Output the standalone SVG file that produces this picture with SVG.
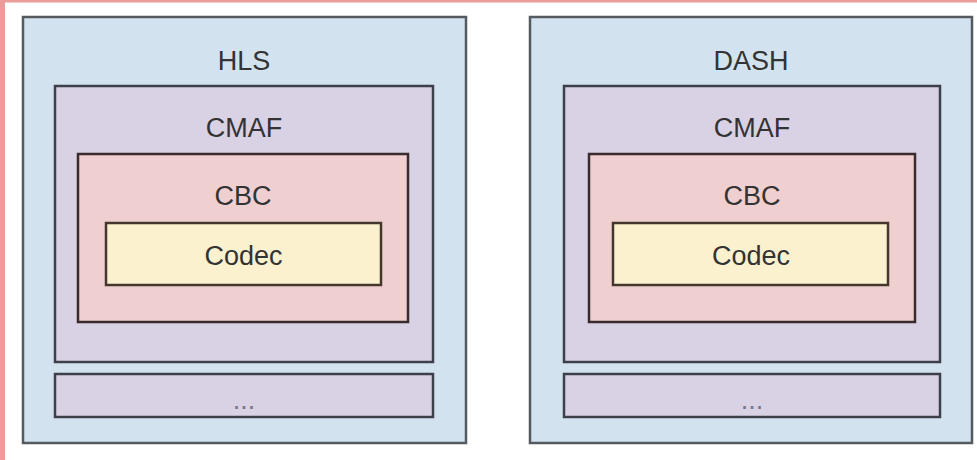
<svg xmlns="http://www.w3.org/2000/svg" width="977" height="460" viewBox="0 0 977 460">
<style>
.outer{fill:#d3e2ef;stroke:#555a5e;stroke-width:2.5}
.cmaf{fill:#d9d2e5;stroke:#3d4048;stroke-width:2.5}
.cbc{fill:#efcfcf;stroke:#3a2b2d;stroke-width:2.5}
.codec{fill:#fcf1cf;stroke:#44382e;stroke-width:2.5}
.lbl{font-family:"Liberation Sans",Arial,sans-serif;font-size:27px;fill:#333;text-anchor:middle}
.dots{font-family:"Liberation Sans",Arial,sans-serif;font-size:27px;fill:#7a7888;text-anchor:middle}
</style>
<rect x="0" y="0" width="977" height="460" fill="#ffffff"/>
<rect x="0" y="0" width="5" height="460" fill="#ec9b9b"/>
<rect x="0" y="0" width="977" height="2.5" fill="#ec9b9b"/>
<g id="hls">
<rect class="outer" x="23" y="17" width="443" height="426"/>
<text class="lbl" x="244" y="70">HLS</text>
</g>
<g id="hls-cmaf">
<rect class="cmaf" x="55" y="86" width="378" height="276"/>
<text class="lbl" x="244" y="137">CMAF</text>
</g>
<g id="hls-cbc">
<rect class="cbc" x="78" y="154" width="330" height="168"/>
<text class="lbl" x="243" y="205">CBC</text>
</g>
<g id="hls-codec">
<rect class="codec" x="106" y="223" width="275" height="62"/>
<text class="lbl" x="243.5" y="265">Codec</text>
</g>
<g id="hls-more">
<rect class="cmaf" x="55" y="374" width="378" height="43"/>
<text class="dots" x="244" y="409">...</text>
</g>
<g id="dash">
<rect class="outer" x="530" y="17" width="442" height="426"/>
<text class="lbl" x="751" y="70">DASH</text>
</g>
<g id="dash-cmaf">
<rect class="cmaf" x="564" y="86" width="376" height="276"/>
<text class="lbl" x="752" y="137">CMAF</text>
</g>
<g id="dash-cbc">
<rect class="cbc" x="589" y="154" width="326" height="168"/>
<text class="lbl" x="752" y="205">CBC</text>
</g>
<g id="dash-codec">
<rect class="codec" x="613" y="223" width="275" height="62"/>
<text class="lbl" x="751" y="265">Codec</text>
</g>
<g id="dash-more">
<rect class="cmaf" x="564" y="374" width="376" height="43"/>
<text class="dots" x="752" y="409">...</text>
</g>
<g id="connectors"></g>
</svg>
